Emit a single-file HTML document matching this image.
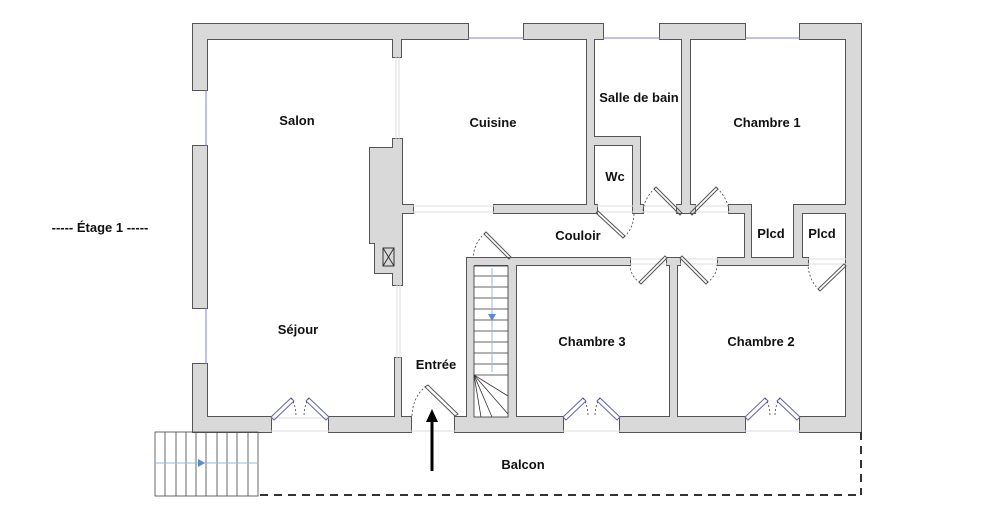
<!DOCTYPE html>
<html><head><meta charset="utf-8"><style>
html,body{margin:0;padding:0;background:#fff;}
svg{display:block;}
text{font-family:"Liberation Sans",Arial,sans-serif;font-weight:bold;font-size:13px;fill:#111;text-anchor:middle;}
</style></head><body>
<svg width="1007" height="522" viewBox="0 0 1007 522" xmlns="http://www.w3.org/2000/svg">
<defs>
<g id="walls">
<rect x="193" y="24" width="275" height="15"/>
<rect x="524" y="24" width="79" height="15"/>
<rect x="660" y="24" width="85" height="15"/>
<rect x="800" y="24" width="61" height="15"/>
<rect x="193" y="24" width="14" height="66"/>
<rect x="193" y="146" width="14" height="162"/>
<rect x="193" y="364" width="14" height="68"/>
<rect x="846" y="24" width="15" height="408"/>
<rect x="193" y="417" width="78" height="15"/>
<rect x="329" y="417" width="82" height="15"/>
<rect x="455" y="417" width="108" height="15"/>
<rect x="620" y="417" width="125" height="15"/>
<rect x="800" y="417" width="61" height="15"/>
<rect x="393" y="39" width="8" height="18"/>
<rect x="393" y="139" width="9" height="146"/>
<rect x="370" y="148" width="32" height="95"/>
<rect x="375" y="243" width="27" height="30"/>
<rect x="395" y="358" width="6" height="59"/>
<rect x="401" y="205" width="12" height="8"/>
<rect x="494" y="205" width="103" height="8"/>
<rect x="587" y="39" width="7" height="174"/>
<rect x="594" y="137" width="46" height="8"/>
<rect x="633" y="137" width="7" height="76"/>
<rect x="633" y="205" width="10" height="8"/>
<rect x="682" y="39" width="8" height="174"/>
<rect x="677" y="205" width="18" height="8"/>
<rect x="729" y="205" width="22" height="8"/>
<rect x="745" y="205" width="6" height="60"/>
<rect x="794" y="205" width="52" height="8"/>
<rect x="794" y="205" width="8" height="60"/>
<rect x="467" y="258" width="163" height="7"/>
<rect x="667" y="258" width="13" height="7"/>
<rect x="718" y="258" width="90" height="7"/>
<rect x="467" y="258" width="7" height="159"/>
<rect x="508" y="258" width="8" height="159"/>
<rect x="670" y="258" width="7" height="159"/>
</g>
</defs>
<use href="#walls" fill="#555" stroke="#555" stroke-width="2"/>
<use href="#walls" fill="#d9d9d9"/>

<!-- openings light lines -->
<g stroke="#ddd" stroke-width="1" fill="none">
<line x1="396" y1="57" x2="396" y2="139"/><line x1="399" y1="57" x2="399" y2="139"/>
<line x1="397" y1="285" x2="397" y2="358"/><line x1="400" y1="285" x2="400" y2="358"/>
<line x1="413" y1="206" x2="494" y2="206"/><line x1="413" y1="212" x2="494" y2="212"/>
<line x1="271" y1="418" x2="329" y2="418"/><line x1="271" y1="431" x2="329" y2="431"/>
<line x1="411" y1="431" x2="455" y2="431"/>
<line x1="563" y1="431" x2="620" y2="431"/><line x1="745" y1="431" x2="800" y2="431"/>
<line x1="630" y1="259" x2="718" y2="259"/><line x1="630" y1="264" x2="718" y2="264"/>
<line x1="594" y1="206" x2="729" y2="206"/><line x1="594" y1="212" x2="729" y2="212"/>
<line x1="808" y1="259" x2="846" y2="259"/><line x1="808" y1="264" x2="846" y2="264"/>
</g>
<!-- windows -->
<g stroke="#8080d0" stroke-width="1">
<line x1="468" y1="38" x2="524" y2="38"/><line x1="603" y1="38" x2="660" y2="38"/><line x1="745" y1="38" x2="800" y2="38"/>
<line x1="206" y1="90" x2="206" y2="146"/><line x1="206" y1="308" x2="206" y2="364"/>
</g>
<!-- X box -->
<g stroke="#333" stroke-width="1" fill="none">
<rect x="383" y="248" width="11" height="18"/><line x1="383" y1="248" x2="394" y2="266"/><line x1="394" y1="248" x2="383" y2="266"/>
</g>

<!-- doors -->
<g stroke="#555" stroke-width="1" fill="none">
<!-- double doors at bottom -->
<path d="M271 417 L291 398 L294 401 L274 420Z" stroke="#6666aa"/>
<path d="M329 417 L309 398 L306 401 L326 420Z" stroke="#6666aa"/>
<path d="M563 417 L583 398 L586 401 L566 420Z" stroke="#6666aa"/>
<path d="M620 417 L600 398 L597 401 L617 420Z" stroke="#6666aa"/>
<path d="M745 417 L765 398 L768 401 L748 420Z" stroke="#6666aa"/>
<path d="M800 417 L780 398 L777 401 L797 420Z" stroke="#6666aa"/>
<!-- entree -->
<path d="M455 416 L425 387 L428 385 L458 414Z"/>
<!-- stair door -->
<path d="M509 259 L484 234 L486 232 L511 257Z"/>
<!-- wc door -->
<path d="M596 213 L623 238 L625 236 L598 211Z"/>
<!-- sdb door -->
<path d="M682 213 L656 187 L654 189 L680 215Z"/>
<!-- ch1 door -->
<path d="M690 213 L716 187 L718 189 L692 215Z"/>
<!-- ch3 door -->
<path d="M667 258 L641 284 L639 282 L665 256Z"/>
<!-- ch2 door -->
<path d="M680 258 L706 284 L708 282 L682 256Z"/>
<!-- plcd door -->
<path d="M846 266 L820 291 L818 289 L844 264Z"/>
</g>
<g stroke="#444" stroke-width="0.8" fill="none" stroke-dasharray="2,2">
<path d="M291 398 Q296 405 296 417"/><path d="M309 398 Q304 405 304 417"/>
<path d="M583 398 Q588 405 588 417"/><path d="M600 398 Q595 405 595 417"/>
<path d="M765 398 Q770 405 770 417"/><path d="M780 398 Q775 405 775 417"/>
<path d="M426 386 Q412 398 412 417"/>
<path d="M485 233 Q474 243 473 258"/>
<path d="M624 237 Q634 228 634 213"/>
<path d="M655 188 Q643 200 643 213"/>
<path d="M717 188 Q729 200 729 213"/>
<path d="M640 283 Q630 275 630 265"/>
<path d="M707 283 Q717 275 717 265"/>
<path d="M819 290 Q809 280 808 265"/>
</g>

<!-- stairs interior -->
<g stroke="#333" stroke-width="0.8" fill="none">
<rect x="474" y="266" width="34" height="151" fill="#fff"/>
<line x1="474" y1="276" x2="508" y2="276"/><line x1="474" y1="287" x2="508" y2="287"/>
<line x1="474" y1="298" x2="508" y2="298"/><line x1="474" y1="309" x2="508" y2="309"/>
<line x1="474" y1="320" x2="508" y2="320"/><line x1="474" y1="331" x2="508" y2="331"/>
<line x1="474" y1="342" x2="508" y2="342"/><line x1="474" y1="353" x2="508" y2="353"/>
<line x1="474" y1="364" x2="508" y2="364"/><line x1="474" y1="375" x2="508" y2="375"/>
<line x1="474" y1="375" x2="508" y2="396"/><line x1="474" y1="375" x2="508" y2="414"/>
<line x1="474" y1="375" x2="492" y2="417"/><line x1="474" y1="375" x2="481" y2="417"/>
</g>
<line x1="492" y1="268" x2="492" y2="372" stroke="#9ab8e0" stroke-width="1"/>
<polygon points="488,314 496,314 492,321" fill="#5a8ad0"/>

<!-- outdoor stairs -->
<g stroke="#444" stroke-width="0.8" fill="none">
<rect x="155" y="432" width="103" height="64"/>
<line x1="165" y1="432" x2="165" y2="496"/><line x1="176" y1="432" x2="176" y2="496"/>
<line x1="186" y1="432" x2="186" y2="496"/><line x1="196" y1="432" x2="196" y2="496"/>
<line x1="206" y1="432" x2="206" y2="496"/><line x1="217" y1="432" x2="217" y2="496"/>
<line x1="227" y1="432" x2="227" y2="496"/><line x1="237" y1="432" x2="237" y2="496"/>
<line x1="248" y1="432" x2="248" y2="496"/>
</g>
<line x1="156" y1="463" x2="257" y2="463" stroke="#9ab8e0" stroke-width="1"/>
<polygon points="198,459 198,467 205,463" fill="#5a8ad0"/>

<!-- balcony dashed -->
<g stroke="#333" stroke-width="2" stroke-dasharray="8,6" fill="none">
<line x1="260" y1="495" x2="861" y2="495"/>
<line x1="861" y1="432" x2="861" y2="495"/>
</g>

<!-- arrow -->
<line x1="432" y1="471" x2="432" y2="420" stroke="#000" stroke-width="3"/>
<polygon points="426,422 438,422 432,409" fill="#000"/>

<!-- labels -->
<text x="100" y="232">-----  Étage 1  -----</text>
<text x="297" y="125">Salon</text>
<text x="493" y="127">Cuisine</text>
<text x="639" y="102">Salle de bain</text>
<text x="767" y="127">Chambre 1</text>
<text x="615" y="181">Wc</text>
<text x="578" y="240">Couloir</text>
<text x="771" y="238">Plcd</text>
<text x="822" y="238">Plcd</text>
<text x="298" y="334">Séjour</text>
<text x="436" y="369">Entrée</text>
<text x="592" y="346">Chambre 3</text>
<text x="761" y="346">Chambre 2</text>
<text x="523" y="469">Balcon</text>
</svg>
</body></html>
